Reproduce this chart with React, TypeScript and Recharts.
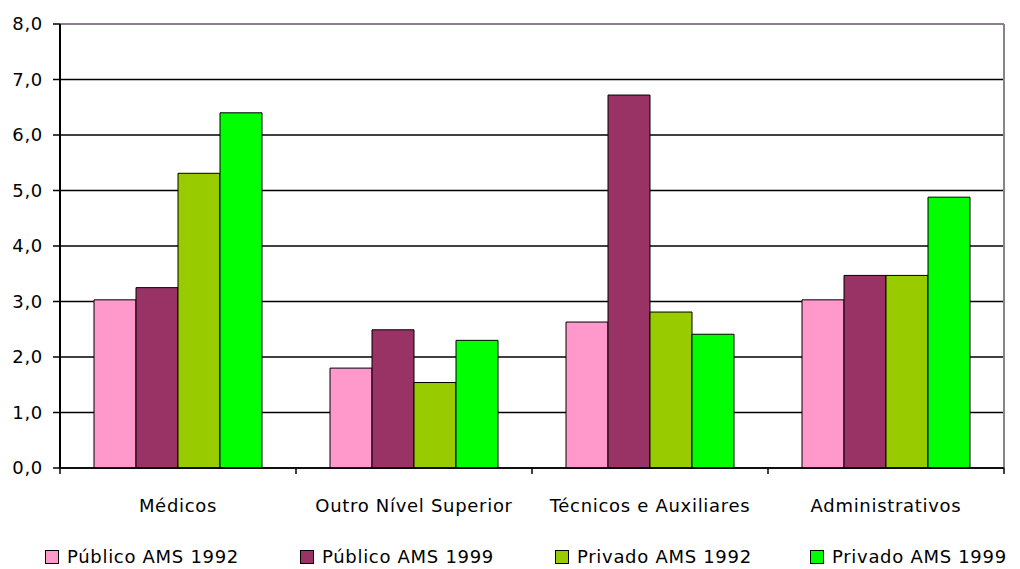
import React from 'react';
import { BarChart, Bar, XAxis, YAxis, CartesianGrid, Legend, ReferenceLine } from 'recharts';

const categories = ['Médicos', 'Outro Nível Superior', 'Técnicos e Auxiliares', 'Administrativos'];
const publico1992 = [3.03, 1.8, 2.63, 3.03];
const publico1999 = [3.25, 2.49, 6.72, 3.47];
const privado1992 = [5.31, 1.54, 2.81, 3.47];
const privado1999 = [6.4, 2.3, 2.41, 4.88];
const yTicks = [0, 1, 2, 3, 4, 5, 6, 7, 8];

const seriesInfo = [
  { key: 'pub92', name: 'Público AMS 1992', color: '#FF99CC' },
  { key: 'pub99', name: 'Público AMS 1999', color: '#993366' },
  { key: 'priv92', name: 'Privado AMS 1992', color: '#99CC00' },
  { key: 'priv99', name: 'Privado AMS 1999', color: '#00FF00' },
];

const data = categories.map((name, i) => ({
  name,
  pub92: publico1992[i],
  pub99: publico1999[i],
  priv92: privado1992[i],
  priv99: privado1999[i],
}));

const FONT = '"DejaVu Sans", sans-serif';
const BORDER = '#8C808C';

// category label plus tick marks on the band edges
const CategoryTick = (props: any) => {
  const { x, y, payload, index, visibleTicksCount } = props;
  const half = payload && payload.offset ? payload.offset : 118;
  const isLast = index === (visibleTicksCount ? visibleTicksCount - 1 : 3);
  return (
    <g>
      <line x1={x - half} x2={x - half} y1={y - 8} y2={y - 2} stroke="#000" strokeWidth={1.5} />
      {isLast && <line x1={x + half} x2={x + half} y1={y - 8} y2={y - 2} stroke="#000" strokeWidth={1.5} />}
      <text x={x} y={y + 36} textAnchor="middle" fontSize={18} letterSpacing={0.7} fill="#000" fontFamily={FONT}>
        {payload.value}
      </text>
    </g>
  );
};

const LegendContent = () => (
  <div style={{ display: 'flex', fontFamily: FONT, fontSize: 18, letterSpacing: 0.7, color: '#000', paddingLeft: 45, paddingTop: 20, width: 1020, boxSizing: 'border-box' }}>
    {seriesInfo.map((s) => (
      <div key={s.key} style={{ width: 255, flexShrink: 0, display: 'flex', alignItems: 'center', whiteSpace: 'nowrap' }}>
        <span style={{ display: 'inline-block', width: 12, height: 12, background: s.color, border: '1.5px solid #000', marginRight: 8 }} />
        <span>{s.name}</span>
      </div>
    ))}
  </div>
);

export default function App() {
  return (
    <div style={{ marginLeft: -8, marginTop: -8, width: 1020, height: 569, background: '#fff', overflow: 'hidden' }}>
      <BarChart
        width={1020}
        height={569}
        data={data}
        margin={{ top: 24, right: 16, left: 0, bottom: 0 }}
        barCategoryGap={34}
        barGap={0}
      >
        <CartesianGrid vertical={false} stroke="#000" strokeWidth={1.5} />
        <CartesianGrid
          horizontal={false}
          verticalCoordinatesGenerator={({ offset }: any) => [offset.left + offset.width]}
          stroke={BORDER}
          strokeWidth={2}
        />
        <XAxis
          dataKey="name"
          axisLine={{ stroke: '#000', strokeWidth: 1.5 }}
          tickLine={false}
          tick={<CategoryTick />}
          height={58}
          interval={0}
        />
        <YAxis
          domain={[0, 8]}
          ticks={yTicks}
          width={60}
          tickFormatter={(v: number) => v.toFixed(1).replace('.', ',')}
          axisLine={{ stroke: '#000', strokeWidth: 2 }}
          tickLine={{ stroke: '#000', strokeWidth: 1.5 }}
          tickSize={7}
          tickMargin={10}
          tick={{ fontSize: 18, fill: '#000', fontFamily: FONT, letterSpacing: 0.7 }}
        />
        <ReferenceLine y={8} stroke={BORDER} strokeWidth={2} />
        <Legend verticalAlign="bottom" height={43} content={<LegendContent />} wrapperStyle={{ left: 0, width: 1020 }} />
        {seriesInfo.map((s) => (
          <Bar key={s.key} dataKey={s.key} name={s.name} fill={s.color} stroke="#000" strokeWidth={1} isAnimationActive={false} />
        ))}
      </BarChart>
    </div>
  );
}
